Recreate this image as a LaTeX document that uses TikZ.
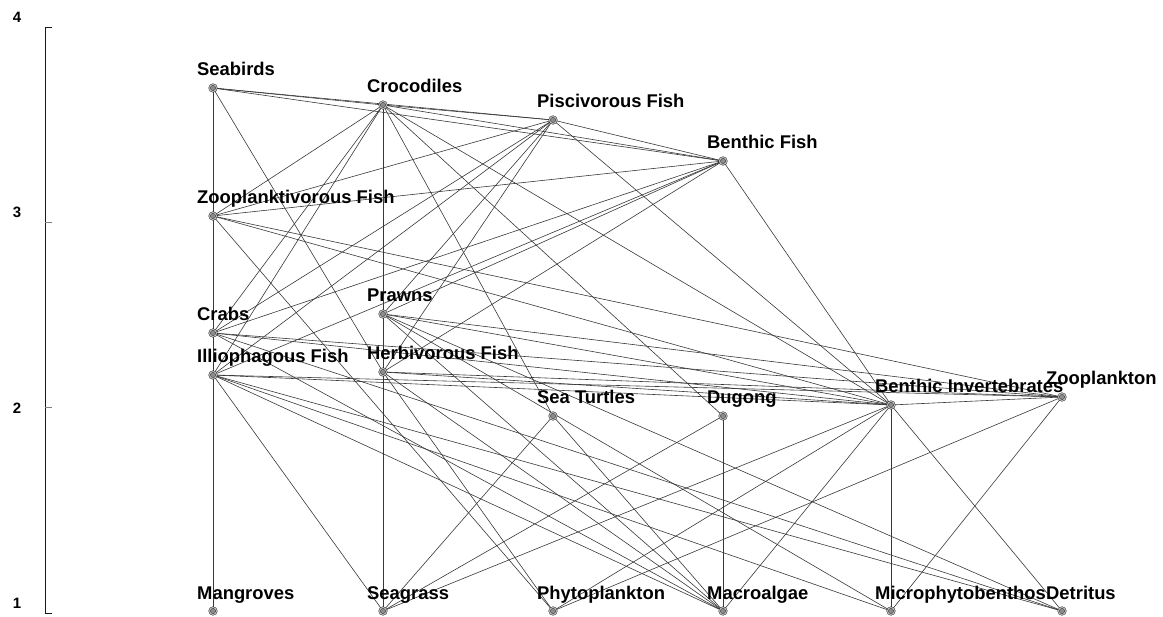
\documentclass[tikz,border=0pt]{standalone}
\usepackage{fontspec}
\setmainfont{Liberation Sans}
\usetikzlibrary{backgrounds}
\tikzset{
  fwn/.style={circle, draw=black!80, line width=0.5pt, fill=black!45, double=black!25, double distance=1pt, minimum size=7pt, inner sep=0pt},
  lbl/.style={font=\fontsize{18.4}{18.4}\selectfont\bfseries, inner sep=0pt, anchor=base west},
  axl/.style={font=\fontsize{15}{15}\selectfont\bfseries, inner sep=0pt},
  link/.style={draw=black!78, line width=0.6pt},
  axisline/.style={draw=black!90, line width=0.75pt}
}
\newcommand\fw[4]{\node[fwn] (#1) at (#2,#3) {}; \node[lbl] (#1-l) at (#2-16,#3-12) {#4};}
\begin{document}
\begin{tikzpicture}[x=1pt,y=-1pt]
\useasboundingbox (0,0) rectangle (1163,617);
% axis
\node[axl] (ax4) at (17,17) {4};
\node[axl] (ax3) at (17,212) {3};
\node[axl] (ax2) at (17,408) {2};
\node[axl] (ax1) at (17,603) {1};
\coordinate (atop) at (45,27);
\coordinate (abot) at (45,613);
\draw[axisline] (52,27) -- (atop) -- (abot) -- (52,613);
\draw[draw=black!50, line width=0.6pt] (45,222) -- (52,222);
\draw[draw=black!50, line width=0.6pt] (45,407) -- (52,407);
% nodes
\fw{sb}{213}{88}{Seabirds}
\fw{cr}{383}{105}{Crocodiles}
\fw{pf}{553}{120}{Piscivorous Fish}
\fw{bf}{723}{161}{Benthic Fish}
\fw{zf}{213}{216}{Zooplanktivorous Fish}
\fw{cb}{213}{333}{Crabs}
\fw{pr}{383}{314}{Prawns}
\fw{il}{213}{375}{Illiophagous Fish}
\fw{hf}{383}{372}{Herbivorous Fish}
\fw{st}{553}{416}{Sea Turtles}
\fw{du}{723}{416}{Dugong}
\fw{bi}{891}{405}{Benthic Invertebrates}
\fw{zp}{1062}{397}{Zooplankton}
\fw{mg}{213}{611}{Mangroves}
\fw{sg}{383}{611}{Seagrass}
\fw{ph}{553}{611}{Phytoplankton}
\fw{ma}{723}{611}{Macroalgae}
\fw{mi}{891}{611}{Microphytobenthos}
\fw{de}{1062}{611}{Detritus}
% links
\begin{scope}[on background layer]
\foreach \a/\b in {sb/cr, sb/pf, sb/bf, sb/zf, sb/cb, sb/hf, cb/mg,
  cr/pf, cr/bf, cr/zf, cr/cb, cr/il, cr/pr, cr/hf, cr/st, cr/du, cr/bi,
  pf/bf, pf/zf, pf/cb, pf/pr, pf/il, pf/hf, pf/bi,
  bf/zf, bf/cb, bf/pr, bf/il, bf/hf, bf/bi,
  zf/zp, zf/bi, zf/ph,
  pr/bi, pr/zp, pr/de, pr/mi, pr/ma,
  cb/bi, cb/ma, cb/de, cb/zp,
  il/bi, il/zp, il/de, il/mi, il/ma, il/sg,
  hf/sg, hf/ph, hf/ma, hf/bi, hf/zp,
  st/sg, st/ma, du/sg, du/ma,
  bi/zp, bi/sg, bi/ph, bi/ma, bi/mi, bi/de,
  zp/ph, zp/mi}
  \draw[link] (\a.center) -- (\b.center);
\end{scope}
\end{tikzpicture}
\end{document}
